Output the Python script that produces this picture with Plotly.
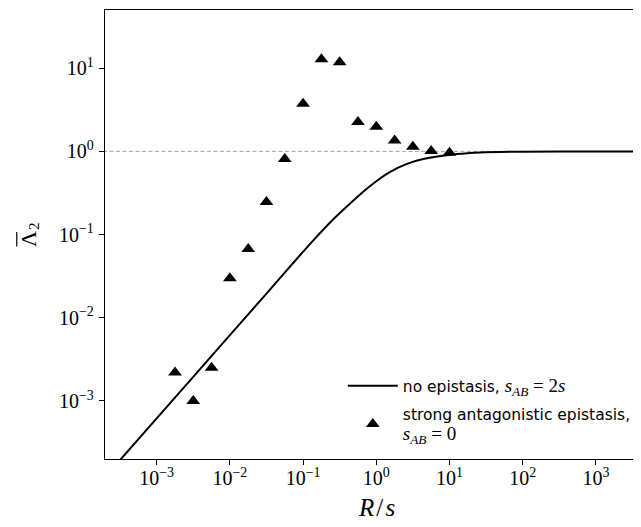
import plotly.graph_objects as go

# ---- data ----
line_x = [1.778e-4, 1e-3, 1e-2, 3.16e-2, 7.94e-2, 0.141, 0.263, 0.447, 0.741,
          1.148, 1.549, 2.63, 4.37, 12.6, 26.3, 100, 1000, 5012]
line_y = [1.096e-4, 6.17e-4, 6.17e-3, 1.95e-2, 4.95e-2, 0.0871, 0.155, 0.240, 0.355,
          0.479, 0.569, 0.708, 0.809, 0.929, 0.973, 0.993, 1.0, 1.0]

tri_x = [1.78e-3, 3.16e-3, 5.62e-3, 1e-2, 1.78e-2, 3.16e-2, 5.62e-2, 0.1,
         0.178, 0.316, 0.562, 1.0, 1.78, 3.16, 5.62, 10]
tri_y = [2.2e-3, 1.0e-3, 2.5e-3, 0.0298, 0.067, 0.247, 0.81, 3.75,
         12.8, 11.8, 2.26, 1.98, 1.35, 1.14, 1.01, 0.965]

reference_level = 1.0
ref_x = [1e-4, 1e4]

x_tickvals = [1e-3, 1e-2, 1e-1, 1e0, 1e1, 1e2, 1e3]
x_ticktext = ["10<sup>\u22123</sup>", "10<sup>\u22122</sup>", "10<sup>\u22121</sup>",
              "10<sup>0</sup>", "10<sup>1</sup>", "10<sup>2</sup>", "10<sup>3</sup>"]
y_tickvals = [1e-3, 1e-2, 1e-1, 1e0, 1e1]
y_ticktext = ["10<sup>\u22123</sup>", "10<sup>\u22122</sup>", "10<sup>\u22121</sup>",
              "10<sup>0</sup>", "10<sup>1</sup>"]

SERIF = "Liberation Serif"
math_span = '<span style="font-family:Liberation Serif;font-size:19px">'
name_line = ('no epistasis, ' + math_span +
             '<i>s</i><sub><i>AB</i></sub>\u2005=\u20052<i>s</i></span>')
name_tri = ('strong antagonistic epistasis,<br>' + math_span +
            '<i>s</i><sub><i>AB</i></sub>\u2005=\u20050</span>')

fig = go.Figure()
fig.add_trace(go.Scatter(x=ref_x, y=[reference_level] * len(ref_x), mode="lines",
                         line=dict(color="#9a9a9a", width=0.9, dash="4px,2.5px"),
                         showlegend=False, hoverinfo="skip"))
fig.add_trace(go.Scatter(x=line_x, y=line_y, mode="lines", name=name_line,
                         legendgroup="a",
                         line=dict(color="black", width=2, shape="spline", smoothing=0.8)))
fig.add_trace(go.Scatter(x=tri_x, y=tri_y, mode="markers", name=name_tri,
                         legendgroup="b",
                         marker=dict(symbol="triangle-up", size=12, color="black")))

fig.update_xaxes(type="log", range=[-3.706, 3.616], showline=True, linecolor="black",
                 linewidth=1.3, mirror=True, ticks="outside", ticklen=5, tickwidth=1,
                 tickcolor="black", tickvals=x_tickvals, ticktext=x_ticktext,
                 showgrid=False, zeroline=False, ticklabelstandoff=-4,
                 tickfont=dict(family=SERIF, size=20, color="black"))
fig.update_yaxes(type="log", range=[-3.698, 1.70], showline=True, linecolor="black",
                 linewidth=1.3, mirror=False, ticks="outside", ticklen=5, tickwidth=1,
                 tickcolor="black", tickvals=y_tickvals, ticktext=y_ticktext,
                 showgrid=False, zeroline=False, ticklabelstandoff=1,
                 tickfont=dict(family=SERIF, size=20, color="black"))

# page body has an 8px margin: figure is laid out so the plot area lands where the
# reference has it in the browser window
fig.update_layout(
    width=633, height=519,
    margin=dict(l=97, r=0, t=2, b=68),
    plot_bgcolor="white", paper_bgcolor="white",
    legend=dict(x=0.4437, y=0.2, xanchor="left", yanchor="top",
                font=dict(family="DejaVu Sans", size=15.5, color="black"),
                bgcolor="rgba(0,0,0,0)", itemwidth=50, tracegroupgap=5),
    annotations=[
        dict(text="<i>R</i>\u200a/\u200a<i>s</i>", xref="paper", yref="paper",
             x=0.5056, y=-0.107, xanchor="center", yanchor="middle", showarrow=False,
             font=dict(family=SERIF, size=25, color="black")),
        dict(text="\u039b", xref="paper", yref="paper",
             x=-0.1414, y=0.4906, xanchor="center", yanchor="middle", showarrow=False,
             textangle=-90, font=dict(family=SERIF, size=22, color="black")),
        dict(text="2", xref="paper", yref="paper",
             x=-0.1325, y=0.519, xanchor="center", yanchor="middle", showarrow=False,
             textangle=-90, font=dict(family=SERIF, size=15, color="black")),
    ],
    shapes=[
        dict(type="line", xref="paper", yref="paper", x0=-0.1646, x1=-0.1646,
             y0=0.4733, y1=0.5056, line=dict(color="black", width=1.2)),
    ],
)

fig.write_html("out.html")
